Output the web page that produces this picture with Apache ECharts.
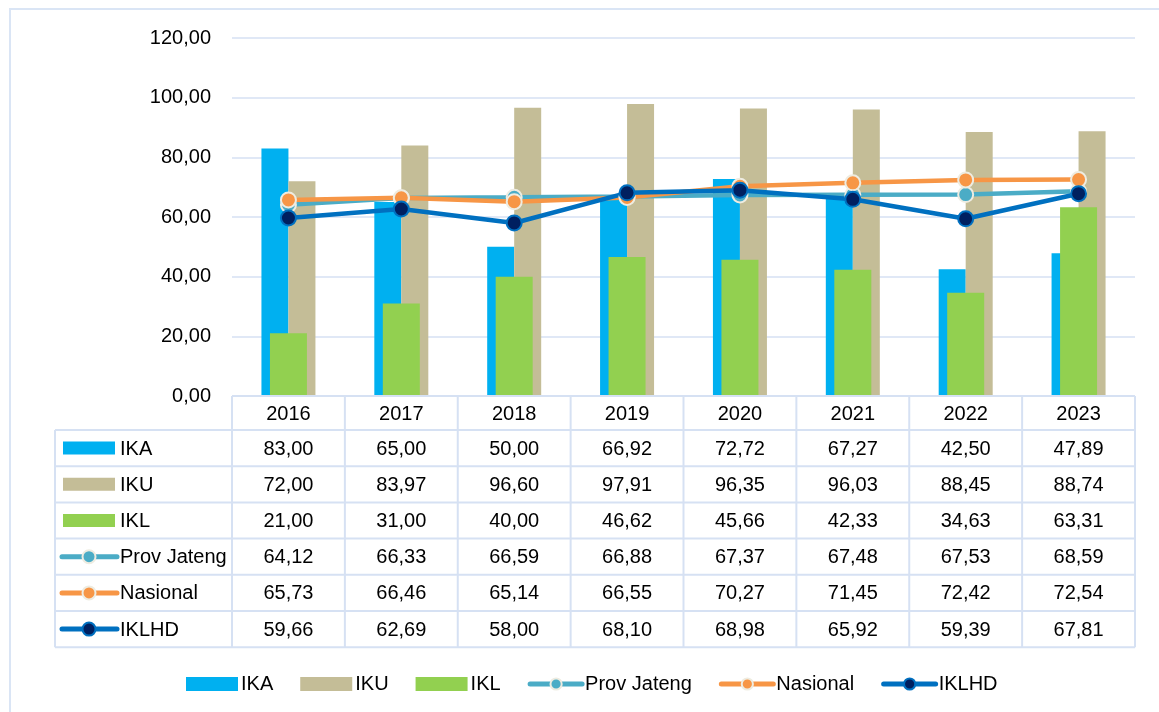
<!DOCTYPE html>
<html>
<head>
<meta charset="utf-8">
<script src="https://cdn.jsdelivr.net/npm/echarts@6/dist/echarts.min.js"></script>
<style>
html,body{margin:0;padding:0;background:#fff;}
#c{width:1159px;height:712px;}
</style>
</head>
<body>
<div id="c"></div>
<script>
const categories = ['2016', '2017', '2018', '2019', '2020', '2021', '2022', '2023'];
const ika = [83.00, 65.00, 50.00, 66.92, 72.72, 67.27, 42.50, 47.89];
const iku = [72.00, 83.97, 96.60, 97.91, 96.35, 96.03, 88.45, 88.74];
const ikl = [21.00, 31.00, 40.00, 46.62, 45.66, 42.33, 34.63, 63.31];
const provJateng = [64.12, 66.33, 66.59, 66.88, 67.37, 67.48, 67.53, 68.59];
const nasional = [65.73, 66.46, 65.14, 66.55, 70.27, 71.45, 72.42, 72.54];
const iklhd = [59.66, 62.69, 58.00, 68.10, 68.98, 65.92, 59.39, 67.81];
const yMin = 0, yMax = 120, yStep = 20;

const FONT = '"Liberation Sans", Arial, sans-serif';
const C = {
  ika: '#00b0f0', iku: '#c4bd97', ikl: '#92d050',
  prov: '#4bacc6', nas: '#f79646', iklhdLine: '#0070c0', iklhdDot: '#002060',
  markBorder: '#eeece1', border: '#d6e1f3'
};
const fmt = v => v.toFixed(2).replace('.', ',');

const chart = echarts.init(document.getElementById('c'), null, {renderer: 'canvas'});
const lineSeries = (name, data, lineColor, dotColor, borderColor) => ({
  name, type: 'line', data, xAxisIndex: 0, yAxisIndex: 0,
  symbol: 'circle', symbolSize: 15,
  lineStyle: {color: lineColor, width: 4.5},
  itemStyle: {color: dotColor, borderColor: borderColor, borderWidth: 2},
  z: 5
});
chart.setOption({
  animation: false,
  textStyle: {fontFamily: FONT},
  grid: {left: 232, right: 24, top: 38, bottom: 316, containLabel: false},
  legend: {
    left: 181, top: 669, itemWidth: 52, itemHeight: 14, itemGap: 27,
    lineStyle: {width: 5, cap: 'round'},
    textStyle: {fontSize: 20, color: '#000', fontFamily: FONT, padding: [0, 0, 0, -2]},
    data: [
      {name: 'IKA', icon: 'rect'},
      {name: 'IKU', icon: 'rect'},
      {name: 'IKL', icon: 'rect'},
      {name: 'Prov Jateng'}, {name: 'Nasional'}, {name: 'IKLHD'}
    ]
  },
  xAxis: [
    {type: 'category', data: categories, axisLabel: {show: false}, axisTick: {show: false},
     axisLine: {show: false}},
    {type: 'category', data: categories, show: false}
  ],
  yAxis: {
    type: 'value', min: yMin, max: yMax, interval: yStep,
    axisLabel: {formatter: v => fmt(v), fontSize: 20, color: '#000', margin: 21, fontFamily: FONT},
    axisLine: {show: false}, axisTick: {show: false},
    splitLine: {lineStyle: {color: C.border, width: 1.5}}
  },
  series: [
    {name: 'IKA', type: 'bar', data: ika, xAxisIndex: 0, barWidth: 27, barGap: '0%', itemStyle: {color: C.ika}},
    {name: 'IKU', type: 'bar', data: iku, xAxisIndex: 0, barWidth: 27, barGap: '0%', itemStyle: {color: C.iku}},
    {name: 'IKL', type: 'bar', data: ikl, xAxisIndex: 1, barWidth: 37, itemStyle: {color: C.ikl}},
    lineSeries('Prov Jateng', provJateng, C.prov, C.prov, C.markBorder),
    lineSeries('Nasional', nasional, C.nas, C.nas, C.markBorder),
    lineSeries('IKLHD', iklhd, C.iklhdLine, C.iklhdDot, C.iklhdLine)
  ]
});

// ---- data table below the plot ----
const centers = categories.map(c => chart.convertToPixel({xAxisIndex: 0}, c));
const cellW = centers[1] - centers[0];
const xStart = centers[0] - cellW / 2;
const xEnd = centers[centers.length - 1] + cellW / 2;
const yTop = chart.convertToPixel({yAxisIndex: 0}, 0);
const headH = 34, rowH = 36.2, labelLeft = 55;
const rowsTop = yTop + headH;
const rows = [
  {name: 'IKA', data: ika, kind: 'bar', color: C.ika},
  {name: 'IKU', data: iku, kind: 'bar', color: C.iku},
  {name: 'IKL', data: ikl, kind: 'bar', color: C.ikl},
  {name: 'Prov Jateng', data: provJateng, kind: 'line', color: C.prov, dot: C.prov, bc: C.markBorder},
  {name: 'Nasional', data: nasional, kind: 'line', color: C.nas, dot: C.nas, bc: C.markBorder},
  {name: 'IKLHD', data: iklhd, kind: 'line', color: C.iklhdLine, dot: C.iklhdDot, bc: C.iklhdLine}
];
const rowsBottom = rowsTop + rows.length * rowH;
const g = [];
const ls = {stroke: C.border, lineWidth: 2};
// outer chart border
g.push({type: 'rect', shape: {x: 10, y: 9, width: 1170, height: 720}, style: {fill: null, stroke: '#dae5f5', lineWidth: 2}, silent: true});
// horizontal lines
g.push({type: 'line', shape: {x1: xStart, y1: yTop, x2: xEnd, y2: yTop}, style: ls, z: 10});
for (let i = 0; i <= rows.length; i++) {
  const y = rowsTop + i * rowH;
  g.push({type: 'line', shape: {x1: labelLeft, y1: y, x2: xEnd, y2: y}, style: ls});
}
// vertical lines
g.push({type: 'line', shape: {x1: labelLeft, y1: rowsTop, x2: labelLeft, y2: rowsBottom}, style: ls});
for (let k = 0; k <= categories.length; k++) {
  const x = xStart + k * cellW;
  g.push({type: 'line', shape: {x1: x, y1: yTop, x2: x, y2: rowsBottom}, style: ls});
}
// header years
categories.forEach((c, i) => {
  g.push({type: 'text', x: centers[i], y: yTop + headH / 2 + 1,
    style: {text: c, fontSize: 20, fontFamily: FONT, fill: '#000', align: 'center', verticalAlign: 'middle'}});
});
// rows
rows.forEach((r, j) => {
  const cy = rowsTop + j * rowH + rowH / 2;
  if (r.kind === 'bar') {
    g.push({type: 'rect', shape: {x: 63, y: cy - 6.5, width: 52, height: 13}, style: {fill: r.color}});
  } else {
    g.push({type: 'line', shape: {x1: 62, y1: cy, x2: 117, y2: cy}, style: {stroke: r.color, lineWidth: 5, lineCap: 'round'}});
    g.push({type: 'circle', shape: {cx: 89, cy: cy, r: 6.5}, style: {fill: r.dot, stroke: r.bc, lineWidth: 2}});
  }
  g.push({type: 'text', x: 120, y: cy + 1,
    style: {text: r.name, fontSize: 20, fontFamily: FONT, fill: '#000', align: 'left', verticalAlign: 'middle'}});
  r.data.forEach((v, i) => {
    g.push({type: 'text', x: centers[i], y: cy + 1,
      style: {text: fmt(v), fontSize: 20, fontFamily: FONT, fill: '#000', align: 'center', verticalAlign: 'middle'}});
  });
});
chart.setOption({graphic: g});
</script>
</body>
</html>
